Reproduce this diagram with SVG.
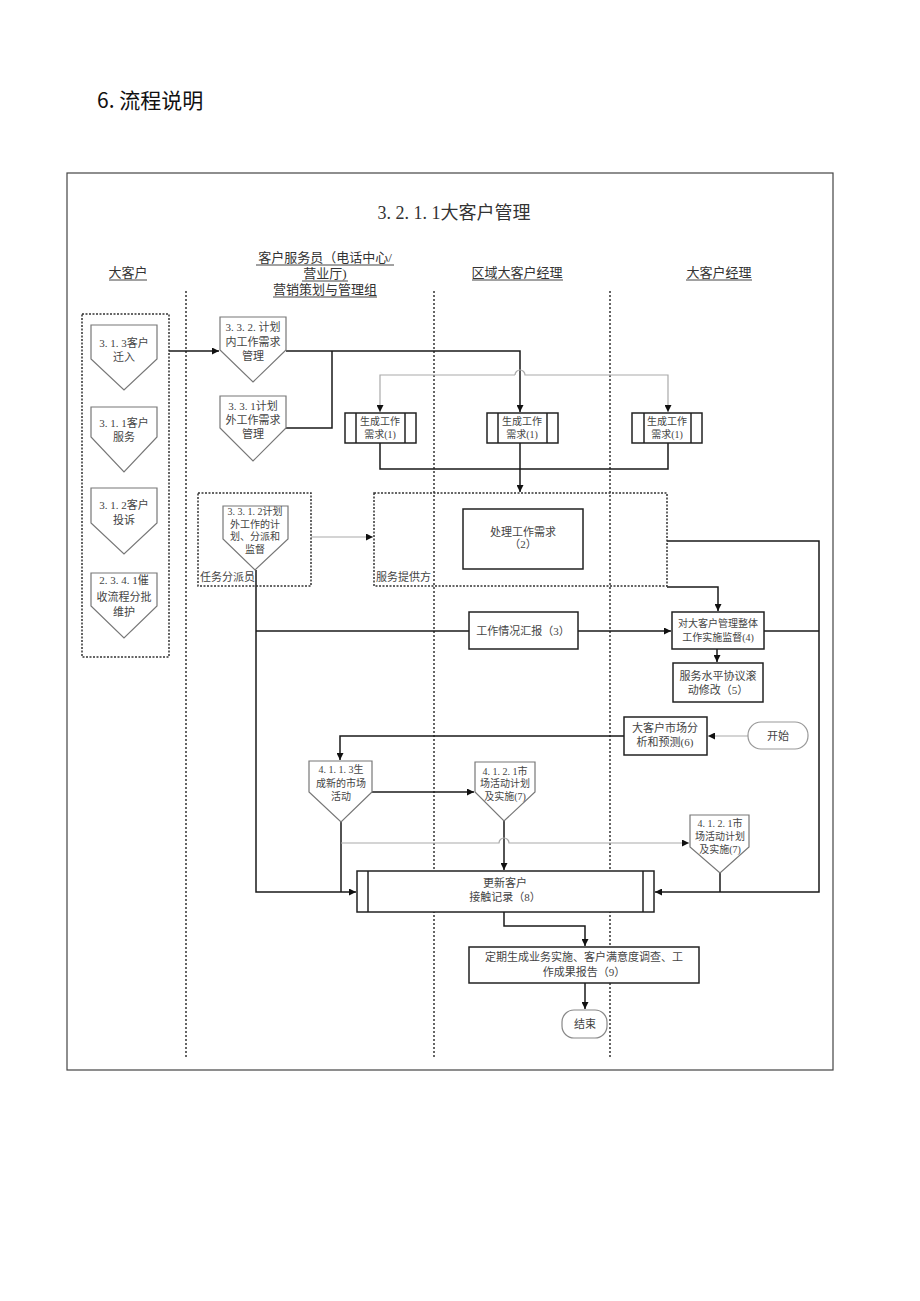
<svg xmlns="http://www.w3.org/2000/svg" width="920" height="1301" viewBox="0 0 920 1301">
<style>
text{font-family:"Liberation Serif","Noto Sans CJK SC",serif;fill:#444;text-anchor:middle}
.h{font-size:13px;fill:#333}
.t{font-size:11px}
.u{font-size:10px}
.s{font-size:11px;text-anchor:start}
.ln{fill:none;stroke:#1a1a1a;stroke-width:1.5}
.gl{fill:none;stroke:#aaa;stroke-width:1.2}
.bx{fill:#fff;stroke:#222;stroke-width:1.5}
.pg{fill:#fff;stroke:#777;stroke-width:1.2}
.dash{fill:none;stroke:#333;stroke-width:1.5;stroke-dasharray:2 1.5}
.lane{stroke:#333;stroke-width:1.5;stroke-dasharray:2 2}
.ul{stroke:#444;stroke-width:1}
</style>
<defs>
<marker id="a" viewBox="0 0 10 10" refX="10" refY="5" markerWidth="7" markerHeight="7" markerUnits="userSpaceOnUse" orient="auto"><path d="M0,0 L10,5 L0,10 z" fill="#111"/></marker>
<marker id="g" viewBox="0 0 10 10" refX="10" refY="5" markerWidth="7" markerHeight="7" markerUnits="userSpaceOnUse" orient="auto"><path d="M0,0 L10,5 L0,10 z" fill="#111"/></marker>
</defs>
<rect width="920" height="1301" fill="#fff"/>
<text x="97" y="108" style="font-family:'Noto Sans CJK SC','Liberation Sans',sans-serif;font-size:21px;fill:#111;text-anchor:start">6. 流程说明</text>
<rect x="67" y="173" width="766" height="897" fill="none" stroke="#444" stroke-width="1.2"/>
<text x="454" y="219" style="font-size:18px;fill:#333">3. 2. 1. 1大客户管理</text>
<g id="headers">
<text class="h" x="128" y="277">大客户</text><line class="ul" x1="109" y1="280" x2="147" y2="280"/>
<text class="h" x="325" y="262">客户服务员（电话中心/</text><line class="ul" x1="256" y1="265" x2="394" y2="265"/>
<text class="h" x="325" y="278">营业厅)</text><line class="ul" x1="302" y1="281" x2="348" y2="281"/>
<text class="h" x="325" y="294">营销策划与管理组</text><line class="ul" x1="273" y1="297" x2="377" y2="297"/>
<text class="h" x="517" y="277">区域大客户经理</text><line class="ul" x1="472" y1="280" x2="563" y2="280"/>
<text class="h" x="719" y="277">大客户经理</text><line class="ul" x1="686" y1="280" x2="752" y2="280"/>
</g>
<g id="lanes">
<line class="lane" x1="186" y1="291" x2="186" y2="1057"/>
<line class="lane" x1="434" y1="291" x2="434" y2="1057"/>
<line class="lane" x1="610" y1="291" x2="610" y2="1057"/>
</g>
<g id="connectors">
<path class="ln" d="M169,351 L219,351" marker-end="url(#a)"/>
<path class="ln" d="M286,351 L520,351 L520,412" marker-end="url(#a)"/>
<path class="ln" d="M286,428 L332,428 L332,351"/>
<path class="gl" d="M515,375 L380,375 L380,412" marker-end="url(#g)"/>
<path class="gl" d="M515,375 A5,5 0 0 1 525,375 L668,375 L668,412" marker-end="url(#g)"/>
<path class="ln" d="M380,443 L380,469 L668,469 L668,443"/>
<path class="ln" d="M520,443 L520,492" marker-end="url(#a)"/>
<path class="gl" d="M311,537 L373,537" marker-end="url(#g)"/>
<path class="ln" d="M667,541 L819,541 L819,892 L655,892" marker-end="url(#a)"/>
<path class="ln" d="M667,587 L718,587 L718,611" marker-end="url(#a)"/>
<path class="ln" d="M256,570 L256,892 L356,892" marker-end="url(#a)"/>
<path class="ln" d="M256,631 L469,631"/>
<path class="ln" d="M578,631 L671,631" marker-end="url(#a)"/>
<path class="ln" d="M764,631 L819,631"/>
<path class="ln" d="M717,649 L717,662" marker-end="url(#a)"/>
<path class="gl" d="M748,736 L708,736" marker-end="url(#g)"/>
<path class="ln" d="M624,736 L340,736 L340,760" marker-end="url(#a)"/>
<path class="ln" d="M372,792 L474,792" marker-end="url(#a)"/>
<path class="ln" d="M341,822 L341,892"/>
<path class="ln" d="M504,821 L504,870" marker-end="url(#a)"/>
<path class="gl" d="M341,843 L499,843 A5,5 0 0 1 509,843 L689,843" marker-end="url(#g)"/>
<path class="ln" d="M720,873 L720,892"/>
<path class="ln" d="M504,912 L504,926 L585,926 L585,946" marker-end="url(#a)"/>
<path class="ln" d="M585,983 L585,1009" marker-end="url(#a)"/>
</g>
<g id="customer-group"><rect class="dash" x="82" y="314" width="87" height="343"/></g>
<g id="n313"><polygon class="pg" points="91,325 157,325 157,359 124,390 91,359"/><text class="t" x="124" y="347">3. 1. 3客户</text><text class="t" x="124" y="361">迁入</text></g>
<g id="n311"><polygon class="pg" points="91,407 157,407 157,437 124,472 91,437"/><text class="t" x="124" y="427">3. 1. 1客户</text><text class="t" x="124" y="441">服务</text></g>
<g id="n312"><polygon class="pg" points="91,488 157,488 157,523 124,554 91,523"/><text class="t" x="124" y="509">3. 1. 2客户</text><text class="t" x="124" y="524">投诉</text></g>
<g id="n2341"><polygon class="pg" points="91,573 157,573 157,606 124,638 91,606"/><text class="t" x="124" y="584">2. 3. 4. 1催</text><text class="t" x="124" y="601">收流程分批</text><text class="t" x="124" y="616">维护</text></g>
<g id="n332"><polygon class="pg" points="220,317 286,317 286,350 253,382 220,350"/><text class="t" x="253" y="331">3. 3. 2. 计划</text><text class="t" x="253" y="346">内工作需求</text><text class="t" x="253" y="360">管理</text></g>
<g id="n331"><polygon class="pg" points="220,396 286,396 286,428 253,461 220,428"/><text class="t" x="253" y="410">3. 3. 1计划</text><text class="t" x="253" y="424">外工作需求</text><text class="t" x="253" y="438">管理</text></g>
<g id="gen1"><rect class="bx" x="345" y="413" width="71" height="30"/><line class="bx" x1="356" y1="413" x2="356" y2="443"/><line class="bx" x1="405" y1="413" x2="405" y2="443"/><text class="u" x="380" y="425">生成工作</text><text class="u" x="380" y="438">需求(1)</text></g>
<g id="gen2"><rect class="bx" x="487" y="413" width="71" height="30"/><line class="bx" x1="498" y1="413" x2="498" y2="443"/><line class="bx" x1="547" y1="413" x2="547" y2="443"/><text class="u" x="522" y="425">生成工作</text><text class="u" x="522" y="438">需求(1)</text></g>
<g id="gen3"><rect class="bx" x="632" y="413" width="70" height="30"/><line class="bx" x1="644" y1="413" x2="644" y2="443"/><line class="bx" x1="691" y1="413" x2="691" y2="443"/><text class="u" x="667" y="425">生成工作</text><text class="u" x="667" y="438">需求(1)</text></g>
<g id="dispatcher"><rect class="dash" x="198" y="493" width="113" height="93"/><polygon class="pg" points="223,506 288,506 288,539 255,570 223,539"/><text class="u" x="255" y="515">3. 3. 1. 2计划</text><text class="u" x="255" y="528">外工作的计</text><text class="u" x="255" y="540">划、分派和</text><text class="u" x="255" y="553">监督</text><text class="s" x="200" y="581">任务分派员</text></g>
<g id="provider"><rect class="dash" x="374" y="493" width="293" height="93"/><rect class="bx" x="463" y="509" width="120" height="60"/><text class="t" x="523" y="536">处理工作需求</text><text class="t" x="523" y="548">（2）</text><text class="s" x="376" y="581">服务提供方</text></g>
<g id="n3"><rect class="bx" x="469" y="612" width="109" height="37"/><text class="t" x="523" y="635">工作情况汇报（3）</text></g>
<g id="n4"><rect class="bx" x="672" y="612" width="92" height="37"/><text class="u" x="718" y="627">对大客户管理整体</text><text class="u" x="718" y="641">工作实施监督(4)</text></g>
<g id="n5"><rect class="bx" x="673" y="663" width="90" height="39"/><text class="t" x="718" y="680">服务水平协议滚</text><text class="t" x="718" y="694">动修改（5）</text></g>
<g id="n6"><rect class="bx" x="624" y="717" width="83" height="38"/><text class="t" x="665" y="732">大客户市场分</text><text class="t" x="665" y="746">析和预测(6)</text></g>
<g id="start"><rect x="748" y="722" width="60" height="27" rx="13" fill="#fff" stroke="#999" stroke-width="1.2"/><text class="t" x="778" y="740">开始</text></g>
<g id="n4113"><polygon class="pg" points="309,761 372,761 372,792 341,822 309,792"/><text class="u" x="341" y="773">4. 1. 1. 3生</text><text class="u" x="341" y="787">成新的市场</text><text class="u" x="341" y="800">活动</text></g>
<g id="n4121a"><polygon class="pg" points="475,762 535,762 535,792 504,821 475,792"/><text class="u" x="505" y="775">4. 1. 2. 1市</text><text class="u" x="505" y="787">场活动计划</text><text class="u" x="505" y="800">及实施(7)</text></g>
<g id="n4121b"><polygon class="pg" points="690,815 749,815 749,847 720,873 690,847"/><text class="u" x="720" y="827">4. 1. 2. 1市</text><text class="u" x="720" y="840">场活动计划</text><text class="u" x="720" y="853">及实施(7)</text></g>
<g id="n8"><rect class="bx" x="357" y="871" width="297" height="41"/><line class="bx" x1="368" y1="871" x2="368" y2="912"/><line class="bx" x1="643" y1="871" x2="643" y2="912"/><text class="t" x="505" y="887">更新客户</text><text class="t" x="505" y="901">接触记录（8）</text></g>
<g id="n9"><rect class="bx" x="469" y="947" width="230" height="36"/><text class="t" x="584" y="961">定期生成业务实施、客户满意度调查、工</text><text class="t" x="584" y="976">作成果报告（9）</text></g>
<g id="end"><rect x="562" y="1010" width="45" height="28" rx="12" fill="#fff" stroke="#888" stroke-width="1.2"/><text class="t" x="585" y="1028">结束</text></g>
</svg>
